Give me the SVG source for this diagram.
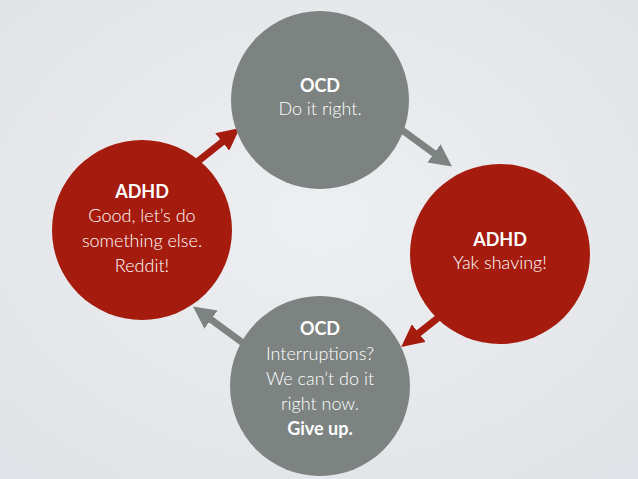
<svg xmlns="http://www.w3.org/2000/svg" width="638" height="479" viewBox="0 0 638 479">
<defs>
<radialGradient id="bg" cx="50%" cy="45%" r="70%"><stop offset="0" stop-color="#eeeff2"/><stop offset="1" stop-color="#e2e3e8"/></radialGradient>
<marker id="ag" viewBox="0 0 10 10" refX="5" refY="5" markerWidth="3.2" markerHeight="3.2" orient="auto"><path d="M0,0 L10,5 L0,10 z" fill="#7c8381"/></marker>
<marker id="ar" viewBox="0 0 10 10" refX="5" refY="5" markerWidth="3.2" markerHeight="3.2" orient="auto"><path d="M0,0 L10,5 L0,10 z" fill="#a51b0d"/></marker>
</defs>
<style>
.g{fill:#7c8381}.r{fill:#a51b0d}
text{font-family:Lato,"Open Sans",sans-serif;fill:#fff;font-size:18px;text-anchor:middle;font-weight:300}
.b{font-weight:bold}
.lg{stroke:#7c8381;stroke-width:7;fill:none}
.lr{stroke:#a51b0d;stroke-width:7;fill:none}
</style>
<rect width="638" height="479" fill="url(#bg)"/>
<g id="connectors">
<line class="lg" x1="402" y1="130" x2="443" y2="160" marker-end="url(#ag)"/>
<line class="lr" x1="448" y1="310" x2="410" y2="340" marker-end="url(#ar)"/>
<line class="lg" x1="243" y1="343" x2="202" y2="313" marker-end="url(#ag)"/>
<line class="lr" x1="192" y1="166" x2="231" y2="135" marker-end="url(#ar)"/>
</g>
<g id="top"><circle class="g" cx="320" cy="100" r="89"/>
<text x="320" y="92" class="b">OCD</text><text x="320" y="115">Do it right.</text></g>
<g id="right"><circle class="r" cx="500" cy="254" r="90"/>
<text x="500" y="246" class="b">ADHD</text><text x="500" y="269">Yak shaving!</text></g>
<g id="bottom"><circle class="g" cx="320" cy="386" r="90"/>
<text x="320" y="335" class="b">OCD</text><text x="320" y="360">Interruptions?</text><text x="320" y="385">We can’t do it</text><text x="320" y="410">right now.</text><text x="320" y="435" class="b">Give up.</text></g>
<g id="left"><circle class="r" cx="142" cy="230" r="90"/>
<text x="142" y="198" class="b">ADHD</text><text x="142" y="222">Good, let’s do</text><text x="142" y="247">something else.</text><text x="142" y="272">Reddit!</text></g>
</svg>
